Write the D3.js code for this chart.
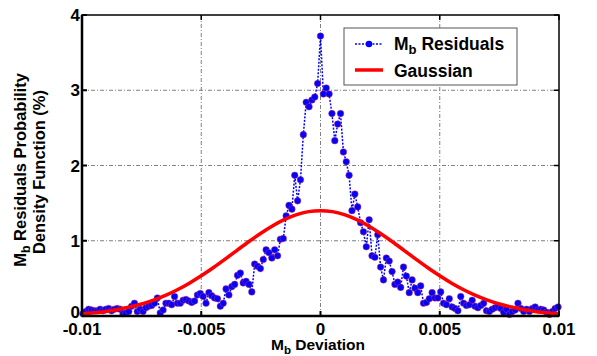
<!DOCTYPE html>
<html>
<head>
<meta charset="utf-8">
<script src="https://cdn.jsdelivr.net/npm/d3@7"></script>
<style>
  body { margin: 0; background: #fff; }
  text { font-family: "Liberation Sans", Arial, sans-serif; font-weight: bold; fill: #000; }
</style>
</head>
<body>
<div class="svgcontainer"></div>
<script>
// residual histogram, one value per bin (bins centred on 0)
const binWidth = 0.00012
const residuals = [
  0.03, 0.06, 0.09, 0.08, 0.07, 0.07, 0.09, 0.07, 0.09, 0.10,
  0.07, 0.09, 0.10, 0.09, 0.03, 0.04, 0.06, 0.13, 0.17, 0.06,
  0.09, 0.06, 0.11, 0.13, 0.14, 0.17, 0.24, 0.04, 0.08, 0.17,
  0.17, 0.15, 0.26, 0.17, 0.17, 0.21, 0.22, 0.20, 0.18, 0.20,
  0.28, 0.30,
  0.26, 0.17, 0.31, 0.27, 0.24, 0.23, 0.13, 0.17, 0.36, 0.28,
  0.39, 0.42, 0.54, 0.57, 0.44, 0.46, 0.42, 0.32, 0.69, 0.66,
  0.63, 0.75, 0.88, 0.84, 0.77, 0.88, 0.80, 1.02,
  1.03, 1.33, 1.47, 1.42, 1.87, 1.53, 1.81, 2.41, 2.84, 2.78,
  2.87, 2.91, 3.09, 3.72, 2.95, 3.03, 2.95, 2.69, 2.33, 2.55,
  2.69, 2.18, 2.05, 1.87,
  1.40, 1.62, 1.45, 1.24, 1.12, 0.92, 1.28, 0.80, 0.78, 1.08,
  0.65, 0.48, 0.77, 0.73, 0.59, 0.42, 0.45, 0.38, 0.65, 0.53,
  0.31, 0.48, 0.37, 0.31, 0.40, 0.17, 0.18, 0.23, 0.31, 0.24,
  0.24, 0.32, 0.17,
  0.15, 0.23, 0.12, 0.10, 0.07, 0.26, 0.17, 0.14, 0.15, 0.21,
  0.13, 0.11, 0.14, 0.17, 0.07, 0.06, 0.09, 0.11, 0.13, 0.10,
  0.05, 0.09, 0.02, 0.06, 0.08, 0.17, 0.10, 0.06, 0.09, 0.06,
  0.10, 0.12, 0.08, 0.09, 0.08, 0.05, 0.02, 0.06, 0.10, 0.12
]

// fitted gaussian
const gaussX = [
  -0.01, -0.0095, -0.009, -0.0085, -0.008, -0.0075, -0.007, -0.0065, -0.006, -0.0055,
  -0.005, -0.0045, -0.004, -0.0035, -0.003, -0.0025, -0.002, -0.0015, -0.001, -0.0005,
  0,
  0.0005, 0.001, 0.0015, 0.002, 0.0025, 0.003, 0.0035, 0.004, 0.0045, 0.005,
  0.0055, 0.006, 0.0065, 0.007, 0.0075, 0.008, 0.0085, 0.009, 0.0095, 0.01
]
const gaussY = [
  0.030, 0.043, 0.061, 0.086, 0.119, 0.160, 0.212, 0.274, 0.349, 0.436,
  0.534, 0.641, 0.756, 0.873, 0.990, 1.100, 1.200, 1.284, 1.347, 1.387,
  1.400,
  1.387, 1.347, 1.284, 1.200, 1.100, 0.990, 0.873, 0.756, 0.641, 0.534,
  0.436, 0.349, 0.274, 0.212, 0.160, 0.119, 0.086, 0.061, 0.043, 0.030
]

const xTicks = [-0.01, -0.005, 0, 0.005, 0.01]
const xTickLabels = ["-0.01", "-0.005", "0", "0.005", "0.01"]
const yTicks = [0, 1, 2, 3, 4]
const legendLabels = [["M", "b", " Residuals"], ["Gaussian"]]

const W = 597, H = 356
const pLeft = 82, pRight = 559, pTop = 15, pBottom = 316

let svg = d3.select(".svgcontainer")
  .append("svg")
  .attr("width", W)
  .attr("height", H)

let x = d3.scaleLinear().domain([-0.01, 0.01]).range([pLeft, pRight])
let y = d3.scaleLinear().domain([0, 4]).range([pBottom, pTop])

let mid = (residuals.length - 1) / 2
let points = residuals.map((v, i) => ({dev: (i - mid) * binWidth, value: v}))
let gauss = gaussX.map((g, i) => ({dev: g, value: gaussY[i]}))

// grid
let grid = svg.append("g")
  .attr("stroke", "#808080")
  .attr("stroke-width", 1)
  .attr("stroke-dasharray", "4,2,1,2")
grid.selectAll("line.gx")
  .data(xTicks.slice(1, -1))
  .join("line")
  .attr("class", "gx")
  .attr("x1", d => x(d)).attr("x2", d => x(d))
  .attr("y1", pTop).attr("y2", pBottom)
grid.selectAll("line.gy")
  .data(yTicks.slice(1, -1))
  .join("line")
  .attr("class", "gy")
  .attr("x1", pLeft).attr("x2", pRight)
  .attr("y1", d => y(d)).attr("y2", d => y(d))

// residuals
let line = d3.line().x(d => x(d.dev)).y(d => y(d.value))
svg.append("path")
  .attr("d", line(points))
  .attr("fill", "none")
  .attr("stroke", "#0000ff")
  .attr("stroke-width", 1.5)
  .attr("stroke-dasharray", "2,1.5")
svg.append("g")
  .selectAll("circle")
  .data(points)
  .join("circle")
  .attr("cx", d => x(d.dev))
  .attr("cy", d => y(d.value))
  .attr("r", 3.3)
  .attr("fill", "#0000ff")
  .attr("stroke", "#c0306a")
  .attr("stroke-width", 0.5)

// gaussian
let smooth = d3.line().x(d => x(d.dev)).y(d => y(d.value)).curve(d3.curveNatural)
svg.append("path")
  .attr("d", smooth(gauss))
  .attr("fill", "none")
  .attr("stroke", "#ff0000")
  .attr("stroke-width", 3.5)

// box + inward ticks
let frame = svg.append("g").attr("stroke", "#000")
frame.append("rect")
  .attr("x", pLeft).attr("y", pTop)
  .attr("width", pRight - pLeft).attr("height", pBottom - pTop)
  .attr("fill", "none").attr("stroke-width", 1.5)
frame.append("line")
  .attr("x1", pLeft).attr("x2", pRight).attr("y1", pBottom).attr("y2", pBottom)
  .attr("stroke-width", 2.5)
frame.append("line")
  .attr("x1", pLeft).attr("x2", pLeft).attr("y1", pTop).attr("y2", pBottom)
  .attr("stroke-width", 2.5)

let tl = 5
xTicks.forEach(t => {
  frame.append("line").attr("x1", x(t)).attr("x2", x(t)).attr("y1", pBottom).attr("y2", pBottom - tl).attr("stroke-width", 2)
  frame.append("line").attr("x1", x(t)).attr("x2", x(t)).attr("y1", pTop).attr("y2", pTop + tl).attr("stroke-width", 1.5)
})
yTicks.forEach(t => {
  frame.append("line").attr("x1", pLeft).attr("x2", pLeft + tl).attr("y1", y(t)).attr("y2", y(t)).attr("stroke-width", 2)
  frame.append("line").attr("x1", pRight).attr("x2", pRight - tl).attr("y1", y(t)).attr("y2", y(t)).attr("stroke-width", 1.5)
})

// tick labels
svg.append("g")
  .selectAll("text")
  .data(xTicks)
  .join("text")
  .attr("x", d => x(d))
  .attr("y", 335)
  .attr("text-anchor", "middle")
  .attr("font-size", 17)
  .text((d, i) => xTickLabels[i])
svg.append("g")
  .selectAll("text")
  .data(yTicks)
  .join("text")
  .attr("x", 80)
  .attr("y", d => y(d) + (d === 0 ? 2 : 6))
  .attr("text-anchor", "end")
  .attr("font-size", 17)
  .text(d => d)

// axis titles
function subLabel(sel, parts, size) {
  sel.append("tspan").text(parts[0])
  sel.append("tspan").attr("dy", 4).attr("font-size", size * 0.75).text(parts[1])
  sel.append("tspan").attr("dy", -4).text(parts[2])
}
let xt = svg.append("text")
  .attr("x", 318).attr("y", 350)
  .attr("text-anchor", "middle")
  .attr("font-size", 15.5)
subLabel(xt, ["M", "b", " Deviation"], 15.5)

let yt = svg.append("text")
  .attr("transform", "translate(26,170) rotate(-90)")
  .attr("text-anchor", "middle")
  .attr("font-size", 16.5)
subLabel(yt, ["M", "b", " Residuals Probability"], 16.5)
svg.append("text")
  .attr("transform", "translate(45,172) rotate(-90)")
  .attr("text-anchor", "middle")
  .attr("font-size", 16.5)
  .text("Density Function (%)")

// legend
let lg = svg.append("g")
lg.append("rect")
  .attr("x", 344).attr("y", 28).attr("width", 173).attr("height", 57)
  .attr("fill", "#fff").attr("stroke", "#555").attr("stroke-width", 1)
lg.append("line")
  .attr("x1", 355).attr("x2", 383).attr("y1", 44).attr("y2", 44)
  .attr("stroke", "#0000ff").attr("stroke-width", 1.5).attr("stroke-dasharray", "2,1.5")
lg.append("circle")
  .attr("cx", 369).attr("cy", 44).attr("r", 3.3).attr("fill", "#0000ff")
lg.append("line")
  .attr("x1", 355).attr("x2", 383).attr("y1", 70).attr("y2", 70)
  .attr("stroke", "#ff0000").attr("stroke-width", 3.5)
let l1 = lg.append("text").attr("x", 394).attr("y", 50).attr("font-size", 17.5)
subLabel(l1, legendLabels[0], 17.5)
lg.append("text").attr("x", 394).attr("y", 77).attr("font-size", 17.5).text(legendLabels[1][0])
</script>
</body>
</html>
